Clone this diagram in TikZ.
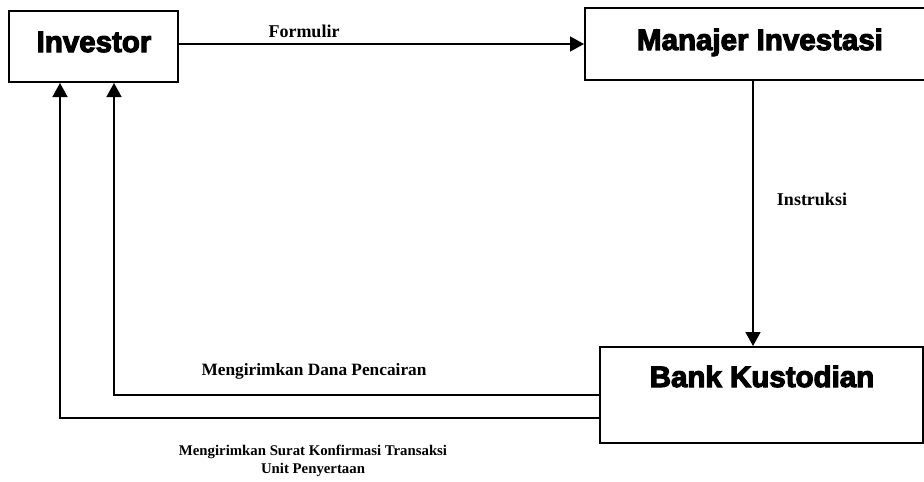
\documentclass[tikz,border=0pt]{standalone}
\usepackage{fontspec}
\setmainfont{Liberation Serif}
\newfontfamily\titlefont[FakeBold=3.8]{Liberation Sans Bold}
\usetikzlibrary{arrows.meta}
\begin{document}
\begin{tikzpicture}[x=1pt,y=-1pt,
  box/.style={draw,line width=2pt,rectangle,inner sep=0pt},
  title/.style={font=\titlefont\fontsize{29.5}{32}\selectfont,anchor=base,inner sep=0pt},
  lab/.style={font=\bfseries\fontsize{18}{20}\selectfont,anchor=base,inner sep=0pt},
  conn/.style={line width=1.6pt,-{Triangle[width=15pt,length=14pt]}},
  line/.style={line width=1.6pt}]
\useasboundingbox (0,0) rectangle (924,482);
\node[box,minimum width=169pt,minimum height=71pt] (inv) at (93.5,46.5) {};
\node[box,minimum width=350pt,minimum height=72pt] (man) at (760,44) {};
\node[box,minimum width=323pt,minimum height=96pt] (bank) at (761.5,395) {};
\node[title] (tinv) at (94,52) {Investor};
\node[title] (tman) at (760,50) {Manajer Investasi};
\node[title] (tbank) at (762,387) {Bank Kustodian};
\draw[conn] (inv.east |- man.west) -- (man.west);
\draw[conn] ([xshift=-7pt]man.south) -- ([xshift=-7pt]man.south |- bank.north);
\draw[conn] (bank.west) -| ([xshift=20.5pt]inv.south);
\draw[conn] ([yshift=-23pt]bank.west) -| ([xshift=-33.5pt]inv.south);
\node[lab] (lform) at (304,37) {Formulir};
\node[lab] (linst) at (812,205) {Instruksi};
\node[lab,font=\bfseries\fontsize{17.3}{20}\selectfont] (ldana) at (314,375) {Mengirimkan Dana Pencairan};
\node[lab,font=\bfseries\fontsize{14.8}{18}\selectfont,align=center,anchor=center] (lsurat) at (313,461) {Mengirimkan Surat Konfirmasi Transaksi\\Unit Penyertaan};
\end{tikzpicture}
\end{document}
